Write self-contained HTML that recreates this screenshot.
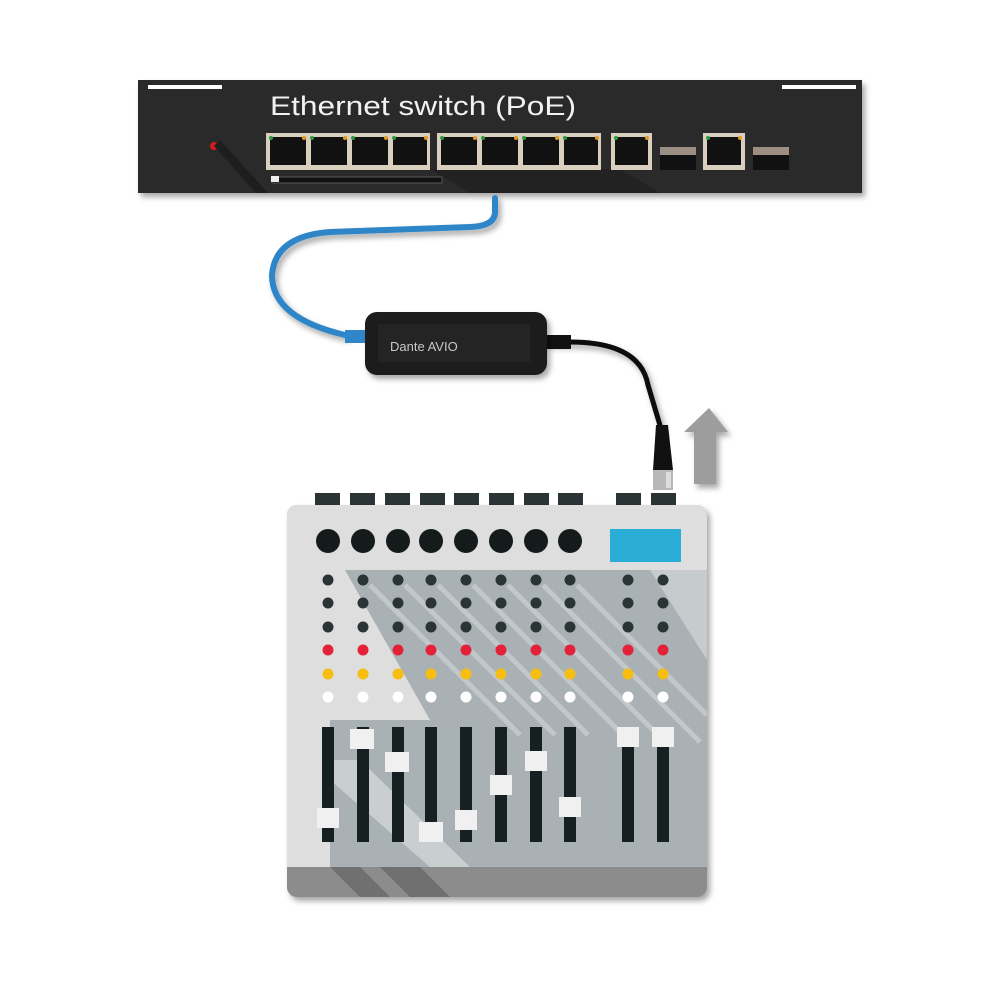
<!DOCTYPE html>
<html><head><meta charset="utf-8"><style>html,body{margin:0;padding:0;background:#fff}svg{display:block}</style></head>
<body>
<svg width="1000" height="1000" viewBox="0 0 1000 1000" xmlns="http://www.w3.org/2000/svg">
<defs>
<filter id="sh" x="-10%" y="-10%" width="130%" height="140%"><feDropShadow dx="3" dy="4" stdDeviation="3" flood-color="#000" flood-opacity="0.35"/></filter>
<clipPath id="mix"><rect x="287" y="505" width="420" height="392" rx="10"/></clipPath>
</defs>
<rect x="138" y="80" width="724" height="113" fill="#2a2a2a" filter="url(#sh)"/>
<rect x="148" y="85" width="74" height="4" fill="#fff"/>
<rect x="782" y="85" width="74" height="4" fill="#fff"/>
<text x="270" y="115" font-family="Liberation Sans, sans-serif" font-size="27" fill="#f2f2f2" textLength="306" lengthAdjust="spacingAndGlyphs">Ethernet switch (PoE)</text>
<circle cx="214" cy="146" r="4" fill="#d41c1c"/>
<polygon points="214,146 256,193 268,193 220,140" fill="#1e1e1e"/>
<polygon points="430,169 470,193 660,193 620,169" fill="#222"/>
<rect x="266" y="133" width="164" height="37" fill="#d9cfbf"/>
<rect x="437" y="133" width="164" height="37" fill="#d9cfbf"/>
<rect x="611" y="133" width="41" height="37" fill="#d9cfbf"/>
<rect x="703" y="133" width="42" height="37" fill="#d9cfbf"/>
<g fill="#111">
<rect x="270" y="137" width="36" height="28"/><rect x="311" y="137" width="36" height="28"/><rect x="352" y="137" width="36" height="28"/><rect x="393" y="137" width="34" height="28"/>
<rect x="441" y="137" width="36" height="28"/><rect x="482" y="137" width="36" height="28"/><rect x="523" y="137" width="36" height="28"/><rect x="564" y="137" width="34" height="28"/>
<rect x="615" y="137" width="33" height="28"/><rect x="707" y="137" width="34" height="28"/>
</g>
<g fill="#2a9a3a"><circle cx="271" cy="138" r="2"/><circle cx="312" cy="138" r="2"/><circle cx="353" cy="138" r="2"/><circle cx="394" cy="138" r="2"/><circle cx="442" cy="138" r="2"/><circle cx="483" cy="138" r="2"/><circle cx="524" cy="138" r="2"/><circle cx="565" cy="138" r="2"/><circle cx="616" cy="138" r="2"/><circle cx="708" cy="138" r="2"/></g>
<g fill="#e09a20"><circle cx="304" cy="138" r="2"/><circle cx="345" cy="138" r="2"/><circle cx="386" cy="138" r="2"/><circle cx="426" cy="138" r="2"/><circle cx="475" cy="138" r="2"/><circle cx="516" cy="138" r="2"/><circle cx="557" cy="138" r="2"/><circle cx="597" cy="138" r="2"/><circle cx="647" cy="138" r="2"/><circle cx="740" cy="138" r="2"/></g>
<rect x="660" y="147" width="36" height="8" fill="#9a8f82"/><rect x="660" y="155" width="36" height="15" fill="#111"/>
<rect x="753" y="147" width="36" height="8" fill="#9a8f82"/><rect x="753" y="155" width="36" height="15" fill="#111"/>
<rect x="272" y="177" width="170" height="6" fill="#111" stroke="#555" stroke-width="1"/>
<rect x="271" y="176" width="8" height="6" fill="#eee"/>
<path d="M495,198 L495,212 Q495,226 470,227 L330,232 Q275,236 272,275 Q272,318 345,335" fill="none" stroke="#2f86c9" stroke-width="6" stroke-linecap="round" filter="url(#sh)"/>
<rect x="345" y="330" width="22" height="13" fill="#2f86c9"/>
<path d="M545,342 L570,342 Q640,342 648,385 L662,432" fill="none" stroke="#111" stroke-width="5" filter="url(#sh)"/>
<rect x="543" y="335" width="28" height="14" fill="#111"/>
<rect x="365" y="312" width="182" height="63" rx="12" fill="#1b1b1b" filter="url(#sh)"/>
<rect x="378" y="324" width="152" height="38" fill="#242424"/>
<text x="390" y="351" font-family="Liberation Sans, sans-serif" font-size="13" fill="#c8c8c8">Dante AVIO</text>
<path d="M656,425 L668,425 L673,470 L653,470 Z" fill="#111"/>
<rect x="653" y="470" width="20" height="20" fill="#b8b8b8"/>
<rect x="666" y="472" width="5" height="16" fill="#ddd"/>
<polygon points="709,408 728,432 716,432 716,484 694,484 694,432 684,432" fill="#9d9d9d" filter="url(#sh)"/>
<g fill="#2a3434">
<rect x="315" y="493" width="25" height="12"/><rect x="350" y="493" width="25" height="12"/><rect x="385" y="493" width="25" height="12"/><rect x="420" y="493" width="25" height="12"/><rect x="454" y="493" width="25" height="12"/><rect x="489" y="493" width="25" height="12"/><rect x="524" y="493" width="25" height="12"/><rect x="558" y="493" width="25" height="12"/><rect x="616" y="493" width="25" height="12"/><rect x="651" y="493" width="25" height="12"/>
</g>
<rect x="287" y="505" width="420" height="392" rx="10" fill="#a9b1b4" filter="url(#sh)"/>
<g clip-path="url(#mix)">
<rect x="287" y="505" width="420" height="65" fill="#dedede"/>
<polygon points="287,570 345,570 430,720 330,720 330,870 287,870" fill="#dedede"/>
<polygon points="330,760 360,760 470,867 430,867 330,780" fill="#c9ced0"/>
<g stroke="#c2c7c9" stroke-width="5">
<line x1="370" y1="585" x2="520" y2="735"/><line x1="405" y1="585" x2="555" y2="735"/><line x1="438" y1="585" x2="588" y2="735"/><line x1="473" y1="585" x2="623" y2="735"/><line x1="508" y1="585" x2="658" y2="735"/><line x1="543" y1="585" x2="700" y2="742"/><line x1="577" y1="585" x2="707" y2="715"/><line x1="670" y1="585" x2="710" y2="625"/>
</g>
<polygon points="650,570 707,570 707,660" fill="#c6cbcd"/>
<rect x="287" y="867" width="420" height="30" fill="#8c8c8c"/>
<polygon points="330,867 360,867 390,897 360,897" fill="#707070"/>
<polygon points="380,867 420,867 450,897 410,897" fill="#707070"/>
</g>
<g fill="#151b1b">
<circle cx="328" cy="541" r="12"/><circle cx="363" cy="541" r="12"/><circle cx="398" cy="541" r="12"/><circle cx="431" cy="541" r="12"/><circle cx="466" cy="541" r="12"/><circle cx="501" cy="541" r="12"/><circle cx="536" cy="541" r="12"/><circle cx="570" cy="541" r="12"/>
</g>
<rect x="610" y="529" width="71" height="33" fill="#2aaed8"/>
<g fill="#2a3434">
<circle cx="328" cy="580" r="5.5"/><circle cx="363" cy="580" r="5.5"/><circle cx="398" cy="580" r="5.5"/><circle cx="431" cy="580" r="5.5"/><circle cx="466" cy="580" r="5.5"/><circle cx="501" cy="580" r="5.5"/><circle cx="536" cy="580" r="5.5"/><circle cx="570" cy="580" r="5.5"/><circle cx="628" cy="580" r="5.5"/><circle cx="663" cy="580" r="5.5"/>
<circle cx="328" cy="603" r="5.5"/><circle cx="363" cy="603" r="5.5"/><circle cx="398" cy="603" r="5.5"/><circle cx="431" cy="603" r="5.5"/><circle cx="466" cy="603" r="5.5"/><circle cx="501" cy="603" r="5.5"/><circle cx="536" cy="603" r="5.5"/><circle cx="570" cy="603" r="5.5"/><circle cx="628" cy="603" r="5.5"/><circle cx="663" cy="603" r="5.5"/>
<circle cx="328" cy="627" r="5.5"/><circle cx="363" cy="627" r="5.5"/><circle cx="398" cy="627" r="5.5"/><circle cx="431" cy="627" r="5.5"/><circle cx="466" cy="627" r="5.5"/><circle cx="501" cy="627" r="5.5"/><circle cx="536" cy="627" r="5.5"/><circle cx="570" cy="627" r="5.5"/><circle cx="628" cy="627" r="5.5"/><circle cx="663" cy="627" r="5.5"/>
</g>
<g fill="#e3223a">
<circle cx="328" cy="650" r="5.5"/><circle cx="363" cy="650" r="5.5"/><circle cx="398" cy="650" r="5.5"/><circle cx="431" cy="650" r="5.5"/><circle cx="466" cy="650" r="5.5"/><circle cx="501" cy="650" r="5.5"/><circle cx="536" cy="650" r="5.5"/><circle cx="570" cy="650" r="5.5"/><circle cx="628" cy="650" r="5.5"/><circle cx="663" cy="650" r="5.5"/>
</g>
<g fill="#f7bd10">
<circle cx="328" cy="674" r="5.5"/><circle cx="363" cy="674" r="5.5"/><circle cx="398" cy="674" r="5.5"/><circle cx="431" cy="674" r="5.5"/><circle cx="466" cy="674" r="5.5"/><circle cx="501" cy="674" r="5.5"/><circle cx="536" cy="674" r="5.5"/><circle cx="570" cy="674" r="5.5"/><circle cx="628" cy="674" r="5.5"/><circle cx="663" cy="674" r="5.5"/>
</g>
<g fill="#ffffff">
<circle cx="328" cy="697" r="5.5"/><circle cx="363" cy="697" r="5.5"/><circle cx="398" cy="697" r="5.5"/><circle cx="431" cy="697" r="5.5"/><circle cx="466" cy="697" r="5.5"/><circle cx="501" cy="697" r="5.5"/><circle cx="536" cy="697" r="5.5"/><circle cx="570" cy="697" r="5.5"/><circle cx="628" cy="697" r="5.5"/><circle cx="663" cy="697" r="5.5"/>
</g>
<g fill="#162020">
<rect x="322" y="727" width="12" height="115"/><rect x="357" y="727" width="12" height="115"/><rect x="392" y="727" width="12" height="115"/><rect x="425" y="727" width="12" height="115"/><rect x="460" y="727" width="12" height="115"/><rect x="495" y="727" width="12" height="115"/><rect x="530" y="727" width="12" height="115"/><rect x="564" y="727" width="12" height="115"/><rect x="622" y="727" width="12" height="115"/><rect x="657" y="727" width="12" height="115"/>
</g>
<g fill="#f0f0f0">
<rect x="317" y="808" width="22" height="20"/><rect x="350" y="729" width="24" height="20"/><rect x="385" y="752" width="24" height="20"/><rect x="419" y="822" width="24" height="20"/><rect x="455" y="810" width="22" height="20"/><rect x="490" y="775" width="22" height="20"/><rect x="525" y="751" width="22" height="20"/><rect x="559" y="797" width="22" height="20"/><rect x="617" y="727" width="22" height="20"/><rect x="652" y="727" width="22" height="20"/>
</g>
</svg>
</body></html>
